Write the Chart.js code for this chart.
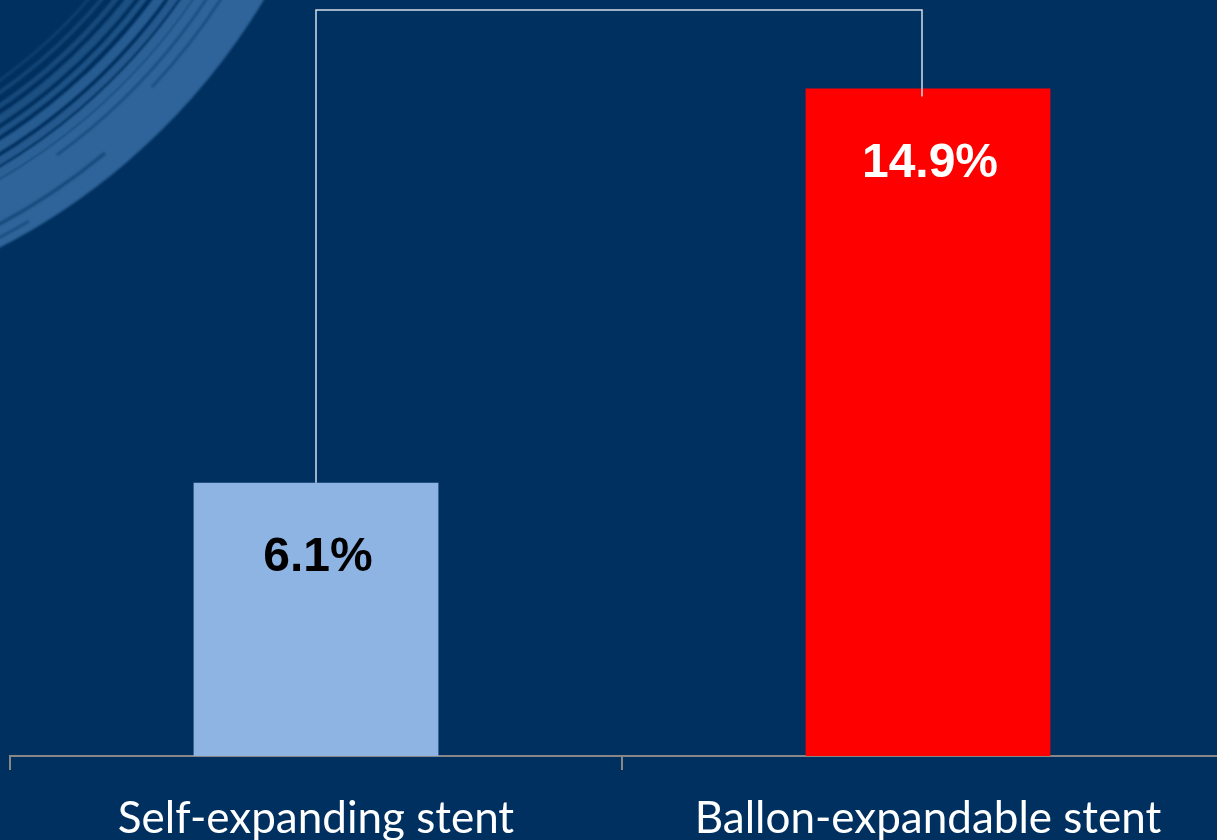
<!DOCTYPE html>
<html>
<head>
<meta charset="utf-8">
<script src="https://cdn.jsdelivr.net/npm/chart.js@4.4.0/dist/chart.umd.min.js"></script>
<style>
  html, body { margin: 0; padding: 0; background: #00305f; overflow: hidden; }
  #wrap { position: relative; width: 1240px; height: 840px; }
</style>
</head>
<body>
<div id="wrap"><canvas id="grafico"></canvas></div>
<script>
const categorias = ["Self-expanding stent", "Ballon-expandable stent"];
const valores = [6.1, 14.9];
const rotulos = ["6.1%", "14.9%"];
const coresBarras = ["#8eb4e3", "#ff0000"];
const coresRotulos = ["#000000", "#ffffff"];

// pincelada clara no canto superior esquerdo (arcos em torno de um centro fora da tela)
const fundoPincel = {
  id: "fundoPincel",
  beforeDraw(chart) {
    const c = chart.ctx;
    c.save();
    c.fillStyle = "#00305f";
    c.fillRect(0, 0, chart.width, chart.height);
    const cx = -303, cy = -340;
    const a0 = Math.PI * 0.10, a1 = Math.PI * 0.45;
    c.filter = "blur(1px)";
    // faixa principal
    c.strokeStyle = "rgb(46, 100, 154)";
    c.lineWidth = 60;
    c.beginPath();
    c.arc(cx, cy, 631, a0, a1);
    c.stroke();
    // riscos mais finos acima da faixa
    const riscos = [
      [596, 10, 0.95], [585, 8, 0.8], [573, 10, 0.85], [561, 6, 0.65],
      [550, 8, 0.6], [539, 5, 0.5], [528, 4, 0.4], [518, 3, 0.3]
    ];
    riscos.forEach(([r, w, a]) => {
      c.strokeStyle = `rgba(46, 100, 154, ${a})`;
      c.lineWidth = w;
      c.beginPath();
      c.arc(cx, cy, r, a0, a1);
      c.stroke();
    });
    // falhas escuras dentro da faixa
    const falhas = [
      [612, 2, 0.12, 0.30], [640, 3, 0.28, 0.40], [624, 2, 0.16, 0.24],
      [652, 2, 0.33, 0.44], [580, 2, 0.20, 0.36], [566, 3, 0.12, 0.26]
    ];
    c.strokeStyle = "rgba(0, 48, 95, 0.55)";
    falhas.forEach(([r, w, i, f]) => {
      c.lineWidth = w;
      c.beginPath();
      c.arc(cx, cy, r, Math.PI * i, Math.PI * f);
      c.stroke();
    });
    c.restore();
  }
};

// rótulos dentro das barras e colchete de comparação
const rotulosEColchete = {
  id: "rotulosEColchete",
  afterDatasetsDraw(chart) {
    const c = chart.ctx;
    const x = chart.scales.x;
    const y = chart.scales.y;
    c.save();
    c.font = "bold 48px 'Liberation Sans', Arial, sans-serif";
    c.textAlign = "center";
    c.textBaseline = "middle";
    valores.forEach((v, i) => {
      c.fillStyle = coresRotulos[i];
      c.fillText(rotulos[i], x.getPixelForValue(i) + 2, y.getPixelForValue(v) + 75);
    });

    const x1 = x.getPixelForValue(0);
    const x2 = x.getPixelForValue(1) - 6;
    const topo = y.getPixelForValue(16.65);
    c.strokeStyle = "#d4dde8";
    c.lineWidth = 1.5;
    c.beginPath();
    c.moveTo(x1, y.getPixelForValue(valores[0]));
    c.lineTo(x1, topo);
    c.lineTo(x2, topo);
    c.lineTo(x2, y.getPixelForValue(valores[1]) + 8);
    c.stroke();
    c.restore();
  }
};

new Chart(document.getElementById("grafico"), {
  type: "bar",
  data: {
    labels: categorias,
    datasets: [{
      data: valores,
      backgroundColor: coresBarras,
      barPercentage: 0.4,
      categoryPercentage: 1
    }]
  },
  options: {
    responsive: true,
    maintainAspectRatio: false,
    animation: false,
    layout: { padding: { left: 10, right: 6, top: 0, bottom: 0 } },
    plugins: {
      legend: { display: false },
      tooltip: { enabled: false }
    },
    scales: {
      y: {
        display: false,
        min: 0,
        max: 16.875
      },
      x: {
        offset: true,
        afterFit(escala) { escala.height = 84; },
        border: { display: true, color: "#878787", width: 2 },
        grid: {
          display: true,
          drawOnChartArea: false,
          color: "#878787",
          lineWidth: 2,
          tickLength: 14,
          offset: true
        },
        ticks: {
          color: "#ffffff",
          padding: 22,
          maxRotation: 0,
          font: { family: "Lato, 'Open Sans', sans-serif", size: 44 }
        }
      }
    }
  },
  plugins: [fundoPincel, rotulosEColchete]
});
</script>
</body>
</html>
